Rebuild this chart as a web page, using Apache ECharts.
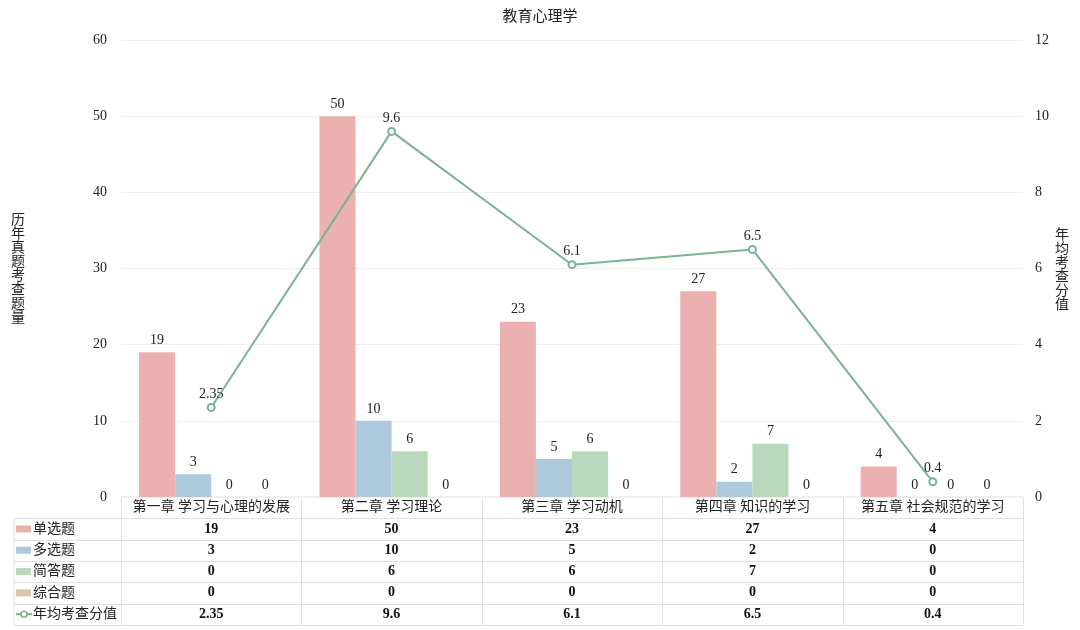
<!DOCTYPE html>
<html>
<head>
<meta charset="utf-8">
<script src="https://cdn.jsdelivr.net/npm/echarts@6/dist/echarts.min.js"></script>
<style>
  html, body { margin: 0; padding: 0; background: #fff; }
  #main { width: 1080px; height: 630px; }
</style>
</head>
<body>
<div id="main"></div>
<script>
const chapters = ['第一章 学习与心理的发展', '第二章 学习理论', '第三章 学习动机', '第四章 知识的学习', '第五章 社会规范的学习'];
const single = [19, 50, 23, 27, 4];
const multi = [3, 10, 5, 2, 0];
const shortAns = [0, 6, 6, 7, 0];
const compre = [0, 0, 0, 0, 0];
const avgScore = [2.35, 9.6, 6.1, 6.5, 0.4];

const FONT = '"Liberation Serif", "Noto Sans CJK SC", serif';
const colors = ['#ebb1b1', '#aec9dc', '#bad8bb', '#d8c8a8', '#79b590'];

// layout of plot + table
const gl = 121, gr = 1023, gt = 40, gb = 497;
const tableLeft = 14;
const rowH = 21.3;

const chart = echarts.init(document.getElementById('main'));

function barSeries(name, data, color) {
    return {
        name: name,
        type: 'bar',
        data: data,
        barGap: '0%',
        barCategoryGap: '20%',
        itemStyle: { color: color },
        label: { show: true, position: 'top', color: '#222', fontFamily: FONT, fontSize: 14 }
    };
}

// data table under the chart
function buildTable() {
    const els = [];
    const colW = (gr - gl) / chapters.length;
    const border = '#e0e0e0';
    const rows = [
        { name: '单选题', data: single, color: colors[0] },
        { name: '多选题', data: multi, color: colors[1] },
        { name: '简答题', data: shortAns, color: colors[2] },
        { name: '综合题', data: compre, color: colors[3] },
        { name: '年均考查分值', data: avgScore, color: colors[4], line: true }
    ];
    const bottom = gb + rowH * (rows.length + 1);
    // horizontal lines
    els.push({ type: 'line', shape: { x1: gl, y1: gb, x2: gr, y2: gb }, style: { stroke: border, lineWidth: 1 } });
    for (let r = 1; r <= rows.length + 1; r++) {
        const y = Math.round(gb + rowH * r) + 0.5;
        els.push({ type: 'line', shape: { x1: tableLeft, y1: y, x2: gr, y2: y }, style: { stroke: border, lineWidth: 1 } });
    }
    // vertical lines
    els.push({ type: 'line', shape: { x1: tableLeft, y1: gb + rowH, x2: tableLeft, y2: bottom }, style: { stroke: border, lineWidth: 1 } });
    for (let c = 0; c <= chapters.length; c++) {
        const x = Math.round(gl + colW * c) + 0.5;
        els.push({ type: 'line', shape: { x1: x, y1: gb, x2: x, y2: bottom }, style: { stroke: border, lineWidth: 1 } });
    }
    // header
    chapters.forEach((c, i) => {
        els.push({
            type: 'text', x: gl + colW * (i + 0.5), y: gb + rowH / 2,
            style: { text: c, align: 'center', verticalAlign: 'middle', fill: '#222', font: '14px ' + FONT }
        });
    });
    rows.forEach((row, r) => {
        const cy = gb + rowH * (r + 1.5);
        if (row.line) {
            els.push({ type: 'line', shape: { x1: 16, y1: cy, x2: 32, y2: cy }, style: { stroke: row.color, lineWidth: 2 } });
            els.push({ type: 'circle', shape: { cx: 24, cy: cy, r: 3 }, style: { fill: '#fff', stroke: row.color, lineWidth: 1.5 } });
        } else {
            els.push({ type: 'rect', shape: { x: 16, y: cy - 3.5, width: 15, height: 7 }, style: { fill: row.color } });
        }
        els.push({
            type: 'text', x: 33, y: cy,
            style: { text: row.name, align: 'left', verticalAlign: 'middle', fill: '#222', font: '14px ' + FONT }
        });
        row.data.forEach((v, i) => {
            els.push({
                type: 'text', x: gl + colW * (i + 0.5), y: cy,
                style: { text: String(v), align: 'center', verticalAlign: 'middle', fill: '#111', font: 'bold 14px ' + FONT }
            });
        });
    });
    return els;
}

const option = {
    backgroundColor: '#fff',
    animation: false,
    title: {
        text: '教育心理学', left: 'center', top: 5,
        textStyle: { fontFamily: FONT, fontSize: 15, fontWeight: 'normal', color: '#222' }
    },
    grid: { left: gl, right: 1080 - gr, top: gt, bottom: 630 - gb, containLabel: false },
    xAxis: {
        type: 'category',
        data: chapters,
        axisLine: { show: false },
        axisTick: { show: false },
        axisLabel: { show: false }
    },
    yAxis: [{
        type: 'value', min: 0, max: 60, interval: 10,
        axisLine: { show: false }, axisTick: { show: false },
        axisLabel: { color: '#222', fontFamily: FONT, fontSize: 14, margin: 14 },
        splitLine: { lineStyle: { color: '#efefef' } }
    }, {
        type: 'value', min: 0, max: 12, interval: 2,
        axisLine: { show: false }, axisTick: { show: false },
        axisLabel: { color: '#222', fontFamily: FONT, fontSize: 14, margin: 12 },
        splitLine: { show: false }
    }],
    series: [
        barSeries('单选题', single, colors[0]),
        barSeries('多选题', multi, colors[1]),
        barSeries('简答题', shortAns, colors[2]),
        barSeries('综合题', compre, colors[3]),
        {
            name: '年均考查分值',
            type: 'line',
            yAxisIndex: 1,
            data: avgScore,
            symbol: 'emptyCircle',
            symbolSize: 7,
            lineStyle: { color: colors[4], width: 2 },
            itemStyle: { color: colors[4], borderWidth: 2 },
            label: { show: true, position: 'top', color: '#222', fontFamily: FONT, fontSize: 14, distance: 2 },
            z: 5
        }
    ],
    graphic: [
        {
            type: 'text', left: 11, top: 213,
            style: { text: '历\n年\n真\n题\n考\n查\n题\n量', fill: '#222', font: '14px ' + FONT, lineHeight: 14 }
        },
        {
            type: 'text', left: 1055, top: 228,
            style: { text: '年\n均\n考\n查\n分\n值', fill: '#222', font: '14px ' + FONT, lineHeight: 14 }
        }
    ].concat(buildTable())
};

chart.setOption(option);
</script>
</body>
</html>
